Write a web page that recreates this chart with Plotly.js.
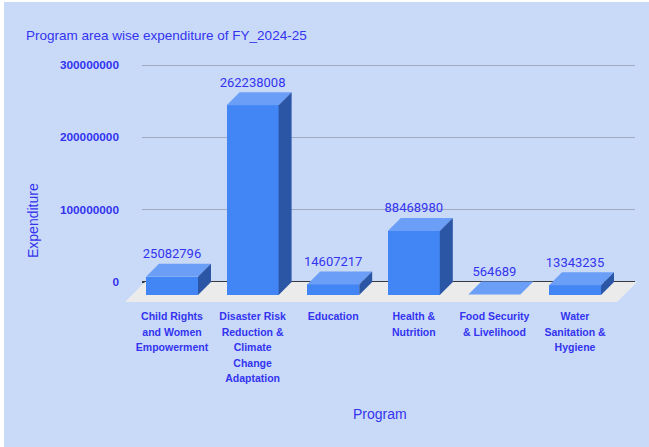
<!DOCTYPE html>
<html><head><meta charset="utf-8">
<script src="https://cdn.plot.ly/plotly-3.0.1.min.js"></script>
<style>
html,body{margin:0;padding:0;background:#ffffff;width:649px;height:447px;overflow:hidden}
#chart{position:absolute;left:4px;top:2px;width:645px;height:445px}
</style>
</head><body><div id="chart"></div>
<script>
// ---- data ----
const categoryLines = [
  ["Child Rights", "and Women", "Empowerment"],
  ["Disaster Risk", "Reduction &", "Climate", "Change", "Adaptation"],
  ["Education"],
  ["Health &", "Nutrition"],
  ["Food Security", "& Livelihood"],
  ["Water", "Sanitation &", "Hygiene"]
];
const expenditure = [25082796, 262238008, 14607217, 88468980, 564689, 13343235];
const yTickVals = [0, 100000000, 200000000, 300000000];
const yTickText = ["0", "100000000", "200000000", "300000000"];
const chartTitle = "Program area wise expenditure of FY_2024-25";
const xTitle = "Program";
const yTitle = "Expenditure";

// ---- layout constants (page pixels) ----
const OX = 4, OY = 2, W = 645, H = 445;
const PX_PER_UNIT = 72.33 / 1e8;
const ZERO_Y = 282, PLOT_TOP = 50, PLOT_BOT = 305;
const CAT0_X = 172, CAT_STEP = 80.6;
const BAR_W_PX = 52, DEPTH_PX = 13, LABEL_OFF_PX = 9;
const GRID_L = 142, GRID_R = 635;
const TXT = "#3333f0";
const FRONT = "#4285f4", TOP = "#6b9ef6", SIDE = "#2b56a6", FLOOR = "#ebebeb";

const fx = px => (px - OX) / W;
const fy = py => 1 - (py - OY) / H;
const toIdx = px => (px - CAT0_X) / CAT_STEP;
const yr = [(ZERO_Y - PLOT_BOT) / PX_PER_UNIT, (ZERO_Y - PLOT_TOP) / PX_PER_UNIT];
const bw = BAR_W_PX / CAT_STEP, dx = DEPTH_PX / CAT_STEP, dy = DEPTH_PX / PX_PER_UNIT;
const idx = expenditure.map((_, i) => i);

const traces = [];
// invisible trace so the grid subplot exists
traces.push({type: "scatter", mode: "markers", x: idx.map(i => i / 10), y: expenditure,
  xaxis: "x", yaxis: "y", marker: {opacity: 0}, hoverinfo: "skip", showlegend: false});
// front faces
traces.push({type: "bar", x: idx, y: expenditure, base: expenditure.map(() => -dy), width: bw,
  xaxis: "x2", yaxis: "y2", marker: {color: FRONT, line: {width: 0}}, hoverinfo: "skip", showlegend: false});
// top + side faces
expenditure.forEach((v, i) => {
  const l = i - bw / 2, r = i + bw / 2;
  traces.push({type: "scatter", mode: "lines", fill: "toself", fillcolor: TOP, line: {width: 0, color: TOP},
    x: [l, r, r + dx, l + dx, l], y: [v - dy, v - dy, v, v, v - dy],
    xaxis: "x2", yaxis: "y2", hoverinfo: "skip", showlegend: false});
  traces.push({type: "scatter", mode: "lines", fill: "toself", fillcolor: SIDE, line: {width: 0, color: SIDE},
    x: [r, r + dx, r + dx, r, r], y: [-dy, 0, v, v - dy, -dy],
    xaxis: "x2", yaxis: "y2", hoverinfo: "skip", showlegend: false});
});
// data labels
traces.push({type: "scatter", mode: "text", x: idx, y: expenditure.map(v => v + LABEL_OFF_PX / PX_PER_UNIT),
  text: expenditure.map(v => String(v)), textposition: "middle center",
  textfont: {family: "Roboto", size: 13, color: TXT}, cliponaxis: false,
  xaxis: "x2", yaxis: "y2", hoverinfo: "skip", showlegend: false});

const floorY = -20 / PX_PER_UNIT;
const floorPath = `M ${toIdx(145)} 0 L ${toIdx(637)} 0 L ${toIdx(617)} ${floorY} L ${toIdx(125)} ${floorY} Z`;

const tickText = categoryLines.map(lines => lines.map(s => `<span style="font-size:10.5px">${s}</span>`).join("<br>"));

const layout = {
  width: W, height: H,
  margin: {l: 0, r: 0, t: 0, b: 0},
  paper_bgcolor: "#c9daf8", plot_bgcolor: "rgba(0,0,0,0)",
  showlegend: false,
  title: {text: chartTitle, x: fx(26), xref: "paper", xanchor: "left", y: fy(35), yref: "container", yanchor: "middle",
    font: {family: "Liberation Sans", size: 13.5, color: TXT}},
  xaxis: {domain: [fx(GRID_L), fx(GRID_R)], range: [0, 1], showgrid: false, zeroline: false, showticklabels: false,
    showline: false, fixedrange: true, anchor: "y"},
  yaxis: {domain: [fy(PLOT_BOT), fy(PLOT_TOP)], range: yr, tickvals: yTickVals, ticktext: yTickText,
    showgrid: true, gridcolor: "#9eabc3", gridwidth: 1, zeroline: true, zerolinecolor: "#3a3a3a", zerolinewidth: 1.5,
    ticks: "", showline: false, ticklabelstandoff: 22, anchor: "x",
    tickfont: {family: "Liberation Sans", size: 11.8, color: TXT, weight: "bold"}, fixedrange: true},
  xaxis2: {domain: [0, 1], range: [toIdx(OX), toIdx(OX + W)], anchor: "y2", tickvals: idx, ticktext: tickText,
    showgrid: false, zeroline: false, showline: false, ticks: "", ticklabelstandoff: 2,
    tickfont: {family: "Liberation Sans", size: 12, color: TXT, weight: "bold"}, fixedrange: true},
  yaxis2: {domain: [fy(PLOT_BOT), fy(PLOT_TOP)], range: yr, anchor: "x2", visible: false, fixedrange: true},
  bargap: 0,
  shapes: [{type: "path", xref: "x2", yref: "y2", path: floorPath, fillcolor: FLOOR, line: {width: 0}, layer: "below"}],
  annotations: [
    {text: yTitle, xref: "paper", yref: "paper", x: fx(33), y: fy(221), xanchor: "center", yanchor: "middle",
      textangle: -90, showarrow: false, font: {family: "Liberation Sans", size: 14, color: TXT}},
    {text: xTitle, xref: "paper", yref: "paper", x: fx(380), y: fy(414), xanchor: "center", yanchor: "middle",
      showarrow: false, font: {family: "Liberation Sans", size: 14, color: TXT}}
  ]
};

Plotly.newPlot("chart", traces, layout, {displayModeBar: false, staticPlot: true});
</script>
</body></html>
